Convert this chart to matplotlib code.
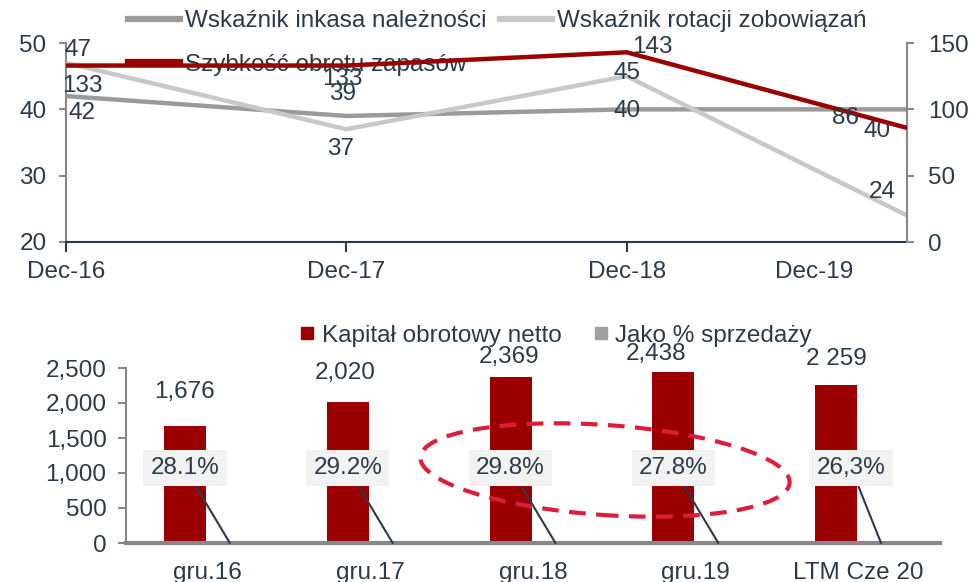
import numpy as np
import matplotlib.pyplot as plt
from matplotlib.lines import Line2D
from matplotlib.patches import Ellipse
from matplotlib.ticker import FuncFormatter
import matplotlib.transforms as mtransforms

plt.rcParams['font.family'] = ['Liberation Sans', 'DejaVu Sans']
plt.rcParams['font.size'] = 17.5

TXT = '#2b3a4a'
RED = '#990000'
DGRAY = '#9a9a9a'
LGRAY = '#c8c8c8'

# top chart data
periods = ['Dec-16', 'Dec-17', 'Dec-18', 'Dec-19']
inkasa = [42, 39, 40, 40]
rotacja = [47, 37, 45, 24]
zapasy = [133, 133, 143, 86]

# bottom chart data
categories = ['gru.16', 'gru.17', 'gru.18', 'gru.19', 'LTM Cze 20']
kapital = [1676, 2020, 2369, 2438, 2259]
kapital_labels = ['1,676', '2,020', '2,369', '2,438', '2 259']
procent = [28.1, 29.2, 29.8, 27.8, 26.3]
procent_labels = ['28.1%', '29.2%', '29.8%', '27.8%', '26,3%']

fig = plt.figure(figsize=(9.73, 5.82), dpi=100)

# ---------------- top chart ----------------
ax = fig.add_axes([66 / 973, 1 - 242 / 582, (907 - 66) / 973, (242 - 43) / 582])
ax2 = ax.twinx()
x = np.arange(len(periods))

ax.plot(x, inkasa, color=DGRAY, lw=3.2, zorder=3, solid_capstyle='butt')
ax.plot(x, rotacja, color=LGRAY, lw=3.2, zorder=3, solid_capstyle='butt')
ax2.plot(x, zapasy, color=RED, lw=3.2, zorder=3, solid_capstyle='butt')

ax.set_xlim(0, 3)
ax.set_ylim(20, 50)
ax2.set_ylim(0, 150)
ax.set_yticks([20, 30, 40, 50])
ax2.set_yticks([0, 50, 100, 150])
ax.set_xticks([0, 1, 2])
ax.set_xticklabels(periods[:3])
ax.text(2.67, -0.15, periods[3], transform=ax.get_xaxis_transform(),
        ha='center', va='center', color=TXT)

for a in (ax, ax2):
    a.spines['top'].set_visible(False)
    a.patch.set_visible(False)
ax.spines['right'].set_visible(False)
ax.spines['left'].set_color('#888888')
ax.spines['left'].set_linewidth(1.5)
ax.spines['bottom'].set_color(TXT)
ax.spines['bottom'].set_linewidth(1.5)
ax2.spines['left'].set_visible(False)
ax2.spines['bottom'].set_visible(False)
ax2.spines['right'].set_color('#888888')
ax2.spines['right'].set_linewidth(1.5)
ax.tick_params(axis='y', colors='#888888', labelcolor=TXT, length=5, width=1.5, pad=9)
ax.tick_params(axis='x', colors=TXT, labelcolor=TXT, length=7, width=1.5, pad=7)
ax2.tick_params(axis='y', colors='#888888', labelcolor=TXT, length=5, width=1.5, pad=10)

# data labels (pixel offsets)
ink_off = [(16, -17), (-4, 22), (0, -2), (-30, -22)]
rot_off = [(12, 13), (-6, -20), (0, 3), (-25, 23)]
zap_off = [(16, -20), (-4, -13), (26, 5), (-62, 10)]
for i in range(len(periods)):
    ax.annotate(str(inkasa[i]), (x[i], inkasa[i]), xytext=ink_off[i],
                textcoords='offset pixels', ha='center', va='center', color=TXT, zorder=5)
    ax.annotate(str(rotacja[i]), (x[i], rotacja[i]), xytext=rot_off[i],
                textcoords='offset pixels', ha='center', va='center', color=TXT, zorder=5)
    ax2.annotate(str(zapasy[i]), (x[i], zapasy[i]), xytext=zap_off[i],
                 textcoords='offset pixels', ha='center', va='center', color=TXT, zorder=5)

handles = [Line2D([], [], color=DGRAY, lw=4.5),
           Line2D([], [], color=RED, lw=4.5),
           Line2D([], [], color=LGRAY, lw=4.5)]
labels = ['Wskaźnik inkasa należności', 'Szybkość obrotu zapasów', 'Wskaźnik rotacji zobowiązań']
leg = fig.legend(handles, labels, ncol=2, loc='upper left', bbox_to_anchor=(128 / 973, 1 - 10 / 582),
                 frameon=False, borderpad=0, borderaxespad=0, handlelength=2.15,
                 handletextpad=0.2, columnspacing=0.55, labelspacing=0.9, labelcolor=TXT)
leg.set_zorder(0)
ax2.set_zorder(2)

# ---------------- bottom chart ----------------
bx = fig.add_axes([126 / 973, 1 - 543 / 582, (940 - 126) / 973, (543 - 368) / 582])
xc = np.arange(len(categories))
off = 0.138
bw = 0.258
bx.bar(xc - off, kapital, width=bw, color='#9b0000', zorder=2)
bx.bar(xc + off, np.array(procent) / 100, width=bw, color='#a0a0a0', zorder=2)

bx.set_xlim(-0.5, len(categories) - 0.5)
bx.set_ylim(0, 2500)
bx.set_yticks(np.arange(0, 2501, 500))
bx.yaxis.set_major_formatter(FuncFormatter(lambda v, p: f'{int(v):,}'))
bx.set_xticks(xc)
bx.set_xticklabels(categories)
for s in ('top', 'right'):
    bx.spines[s].set_visible(False)
bx.spines['left'].set_color('#888888')
bx.spines['left'].set_linewidth(1.5)
bx.spines['bottom'].set_color('#888888')
bx.spines['bottom'].set_linewidth(3)
bx.tick_params(axis='y', colors='#888888', labelcolor=TXT, length=6, width=1.5, pad=8)
bx.tick_params(axis='x', length=0, labelcolor=TXT, pad=14)
bx.patch.set_visible(False)

kap_off = [(0, 34), (-3, 29), (-1, 20), (-17, 18), (0, 26)]
for i in range(len(categories)):
    bx.annotate(kapital_labels[i], (xc[i] - off, kapital[i]), xytext=kap_off[i],
                textcoords='offset pixels', ha='center', va='center', color=TXT)

pct_shift = [0, 0, 0, 0, 0.092]
for i in range(len(categories)):
    bx.annotate(procent_labels[i], xy=(xc[i] + off, procent[i] / 100),
                xytext=(xc[i] - off + pct_shift[i], 1071), textcoords='data',
                ha='center', va='center', color=TXT, zorder=4,
                bbox=dict(boxstyle='square,pad=0.3', fc='#f2f2f2', ec='none'),
                arrowprops=dict(arrowstyle='-', color=TXT, lw=1.5, shrinkA=0, shrinkB=0))

bhandles = [Line2D([], [], color='#9b0000', marker='s', ls='none', markersize=9),
            Line2D([], [], color='#a0a0a0', marker='s', ls='none', markersize=9)]
fig.legend(bhandles, ['Kapitał obrotowy netto', 'Jako % sprzedaży'], ncol=2,
           loc='center left', bbox_to_anchor=(300 / 973, 1 - 336 / 582), frameon=False,
           borderpad=0, borderaxespad=0, handlelength=0.6, handletextpad=0.3,
           columnspacing=1.3, labelcolor=TXT)

ell = Ellipse((605, 582 - 470), 370, 90, angle=-4, fill=False, ec='#dc1e3c', lw=3,
              ls=(0, (4, 2.5)), transform=mtransforms.IdentityTransform(), zorder=10)
fig.add_artist(ell)

plt.savefig('out.png', dpi=100)
